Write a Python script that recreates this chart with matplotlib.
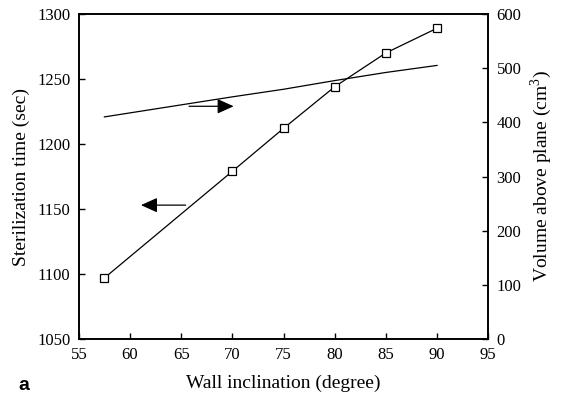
import matplotlib.pyplot as plt

plt.rcParams['font.family'] = ['Liberation Serif', 'DejaVu Serif']
plt.rcParams['mathtext.fontset'] = 'custom'
plt.rcParams['mathtext.rm'] = 'Liberation Serif'

# wall inclination (degree)
inclination = [57.5, 70, 75, 80, 85, 90]
# sterilization time (sec), left axis
ster_time = [1097, 1179, 1212, 1244, 1270, 1289]
# volume above plane (cm3), right axis
volume = [410, 447, 461, 477, 492, 505]

fig = plt.figure(figsize=(5.67, 3.98), dpi=100)
ax = fig.add_axes([0.139, 0.148, 0.722, 0.817])
ax2 = ax.twinx()

ax.plot(inclination, ster_time, color='black', lw=0.9, marker='s',
        markersize=6.3, markerfacecolor='white', markeredgecolor='black',
        markeredgewidth=0.9, zorder=3)
ax2.plot(inclination, volume, color='black', lw=0.9)

ax.set_xlim(55, 95)
ax.set_ylim(1050, 1300)
ax2.set_ylim(0, 600)
ax.set_xticks(range(55, 96, 5))
ax.set_yticks(range(1050, 1301, 50))
ax2.set_yticks(range(0, 601, 100))

for a in (ax, ax2):
    a.tick_params(direction='in', length=4, width=1, labelsize=12, pad=6)
    for s in a.spines.values():
        s.set_linewidth(1.2)

ax.set_xlabel('Wall inclination (degree)', fontsize=14, labelpad=8)
ax.set_ylabel('Sterilization time (sec)', fontsize=14, labelpad=5)
ax2.set_ylabel('Volume above plane (cm$^3$)', fontsize=14, labelpad=5)

# direction arrows
ax.annotate('', xy=(60.8, 1153), xytext=(65.7, 1153),
            arrowprops=dict(arrowstyle='-|>,head_length=1.0,head_width=0.45',
                            color='black', lw=0.9))
ax.annotate('', xy=(70.4, 1229), xytext=(65.5, 1229),
            arrowprops=dict(arrowstyle='-|>,head_length=1.0,head_width=0.45',
                            color='black', lw=0.9))

fig.text(0.032, 0.02, 'a', fontsize=14, fontweight='bold',
         family='Liberation Sans')

fig.savefig('out.png', dpi=100)
